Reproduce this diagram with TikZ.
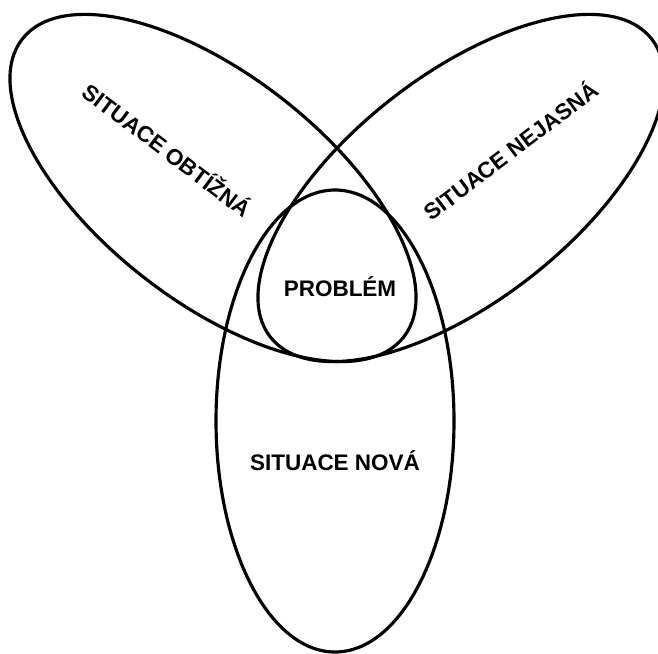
\documentclass[tikz,border=0pt]{standalone}
\usepackage{fontspec}
\setmainfont{Liberation Sans}

\begin{document}
\begin{tikzpicture}[x=0.02cm,y=0.02cm,
 set/.style={line width=1.8pt},
 lbl/.style={font=\fontsize{12.8}{15}\selectfont\bfseries,inner sep=1pt}]
\useasboundingbox (0,0) rectangle (658,653);
% the three situations
\draw[set,rotate around={-38:(213,465)}] (213,465) ellipse [x radius=242,y radius=113];
\draw[set,rotate around={38:(461,465)}] (461,465) ellipse [x radius=242,y radius=113];
\draw[set] (335,232) ellipse [x radius=119,y radius=231];
% labels
\node[lbl,rotate=-37] (obt) at (168,504) {SITUACE OBTÍŽNÁ};
\node[lbl,rotate=37] (nej) at (510,503) {SITUACE NEJASNÁ};
\node[lbl] (nov) at (335,192) {SITUACE NOVÁ};
\node[lbl] (prob) at (340,366) {PROBLÉM};
\end{tikzpicture}
\end{document}
